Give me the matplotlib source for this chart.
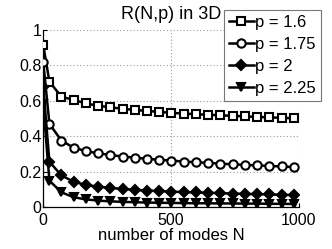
import matplotlib
matplotlib.use("Agg")
import matplotlib.pyplot as plt

# ── Data ──────────────────────────────────────────────────────────────────────
N = [1, 25, 72, 120, 168, 216, 263, 311, 359, 407, 454,
     502, 550, 598, 646, 693, 741, 789, 837, 884, 932, 980]

r_p160 = [0.915, 0.708, 0.623, 0.605, 0.585, 0.572, 0.563, 0.555, 0.548, 0.543, 0.537,
          0.532, 0.528, 0.524, 0.521, 0.518, 0.515, 0.512, 0.509, 0.506, 0.504, 0.501]
r_p175 = [0.820, 0.470, 0.375, 0.335, 0.316, 0.303, 0.294, 0.285, 0.279, 0.272, 0.267,
          0.262, 0.257, 0.253, 0.249, 0.245, 0.241, 0.238, 0.235, 0.232, 0.229, 0.226]
r_p200 = [0.680, 0.256, 0.178, 0.143, 0.124, 0.115, 0.108, 0.102, 0.097, 0.093, 0.090,
          0.087, 0.084, 0.082, 0.080, 0.078, 0.076, 0.074, 0.072, 0.071, 0.069, 0.068]
r_p225 = [0.580, 0.149, 0.083, 0.055, 0.043, 0.036, 0.032, 0.029, 0.027, 0.025, 0.024,
          0.023, 0.022, 0.021, 0.021, 0.020, 0.020, 0.019, 0.019, 0.018, 0.018, 0.017]

labels = ["p = 1.6", "p = 1.75", "p = 2", "p = 2.25"]
xticks = [0, 500, 1000]
yticks = [0, 0.2, 0.4, 0.6, 0.8, 1]
ytick_labels = ["0", "0.2", "0.4", "0.6", "0.8", "1"]

# ── Figure ────────────────────────────────────────────────────────────────────
plt.rcParams["font.family"] = ["Liberation Sans", "DejaVu Sans"]

fig = plt.figure(figsize=(3.32, 2.49), dpi=100)
ax = fig.add_axes([0.1295, 0.1687, 0.771, 0.7108])

series = [r_p160, r_p175, r_p200, r_p225]
markers = ["s", "o", "D", "v"]
faces = ["white", "white", "black", "black"]
sizes = [5.5, 6, 5, 6]

for ys, m, fc, ms, lab in zip(series, markers, faces, sizes, labels):
    ax.plot(N, ys, color="black", linewidth=1.8, marker=m, markersize=ms,
            markerfacecolor=fc, markeredgecolor="black", markeredgewidth=1.5,
            label=lab, zorder=3)

ax.set_xlim(0, 1000)
ax.set_ylim(0, 1)
ax.set_xticks(xticks)
ax.set_yticks(yticks)
ax.set_yticklabels(ytick_labels)
ax.tick_params(direction="in", length=3, width=0.8, labelsize=11.5,
               top=False, right=False)
ax.tick_params(axis="y", pad=1)
ax.tick_params(axis="x", pad=4)

ax.grid(True, linestyle=(0, (1, 2)), color="#999999", linewidth=0.8)
for side in ["top", "right"]:
    ax.spines[side].set_visible(False)
for side in ["left", "bottom"]:
    ax.spines[side].set_linewidth(0.9)

ax.set_xlabel("number of modes N", fontsize=12, labelpad=0)
ax.set_title("R(N,p) in 3D", fontsize=13, pad=8, x=0.5)

leg = fig.legend(loc="upper right", bbox_to_anchor=(0.992, 0.994),
                 fontsize=12, handlelength=1.5, handletextpad=0.1,
                 labelspacing=0.42, borderpad=0.3, frameon=True,
                 fancybox=False, framealpha=1, edgecolor="#777777")
leg.get_frame().set_linewidth(0.8)

fig.savefig("out.png", dpi=100)
